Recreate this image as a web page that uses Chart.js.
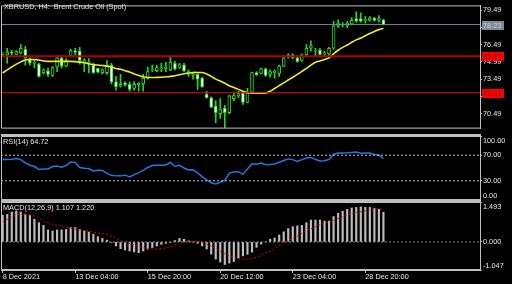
<!DOCTYPE html>
<html>
<head>
<meta charset="utf-8">
<script src="https://cdn.jsdelivr.net/npm/chart.js@4.4.1/dist/chart.umd.min.js"></script>
<style>
    html, body { margin: 0; padding: 0; background: #000; }
    #wrap { position: relative; width: 512px; height: 284px; overflow: hidden; background: #000; }
    #wrap canvas { position: absolute; left: 0; }
    .sep { position: absolute; left: 1px; width: 480px; height: 2px; background: #bdbdbd; }
</style>
</head>
<body>
<div id="wrap">
    <canvas id="main-canvas" width="512" height="134" style="top:0"></canvas>
    <div class="sep" style="top:134px"></div>
    <canvas id="rsi-canvas" width="512" height="64" style="top:136px"></canvas>
    <div class="sep" style="top:200px"></div>
    <canvas id="macd-canvas" width="512" height="82" style="top:202px"></canvas>
</div>
<script>
// XBRUSD H4 candles, one entry per bar (8 Dec 2021 .. 28 Dec 2021)
var opens = [75.68, 75.60, 75.84, 75.64, 75.76, 76.08, 75.27, 74.87, 74.79, 74.06,
    74.22, 73.81, 74.54, 75.35, 74.62, 75.52, 75.92, 75.92, 74.95, 74.87,
    74.71, 74.42, 74.06, 74.06, 74.71, 73.25, 72.88, 73.17, 73.04, 72.68,
    73.00, 73.08, 73.57, 74.26, 74.22, 74.38, 74.42, 74.30, 74.87, 74.50,
    74.71, 73.90, 73.81, 73.90, 73.57, 72.19, 71.87, 71.14, 70.49, 70.98,
    70.57, 71.79, 72.03, 72.27, 71.46, 72.35, 74.06, 73.98, 74.38, 73.90,
    74.06, 73.98, 74.62, 75.60, 75.60, 75.35, 75.11, 75.60, 76.17, 75.92,
    76.00, 75.68, 75.68, 76.17, 78.11, 78.19, 78.11, 78.27, 78.76, 78.76,
    78.60, 78.60, 78.80, 78.60, 78.64];
var highs = [75.76, 76.17, 76.00, 75.96, 76.49, 76.33, 75.35, 75.19, 74.87, 74.38,
    74.46, 74.58, 75.52, 75.52, 75.27, 76.08, 76.17, 76.25, 75.27, 75.27,
    74.87, 74.46, 74.38, 75.11, 74.87, 73.73, 73.90, 73.25, 73.25, 73.25,
    73.21, 73.90, 74.54, 74.71, 74.71, 74.87, 74.95, 75.44, 75.03, 74.87,
    74.87, 74.30, 74.06, 73.98, 73.65, 72.44, 71.95, 71.62, 71.79, 71.22,
    72.11, 72.27, 72.44, 72.44, 72.68, 74.10, 74.14, 74.46, 74.46, 74.30,
    74.30, 74.71, 75.52, 75.68, 75.68, 75.52, 75.68, 76.49, 76.81, 76.17,
    76.17, 75.92, 76.25, 78.52, 78.64, 78.40, 78.52, 78.84, 79.33, 79.25,
    78.92, 78.92, 78.84, 79.00, 78.68];
var lows = [75.56, 74.87, 75.60, 75.60, 75.68, 74.71, 74.71, 74.46, 73.65, 73.94,
    73.73, 73.73, 74.14, 74.46, 74.54, 75.44, 75.60, 74.79, 74.14, 74.06,
    73.98, 74.02, 73.94, 73.90, 73.08, 72.52, 72.80, 72.88, 72.44, 72.52,
    72.44, 72.44, 73.49, 74.14, 74.14, 74.14, 74.14, 74.22, 74.30, 74.42,
    74.14, 73.73, 73.49, 72.60, 72.76, 71.83, 71.02, 69.68, 70.08, 69.27,
    70.49, 71.62, 71.87, 71.30, 71.42, 72.31, 73.81, 73.94, 73.73, 73.65,
    73.57, 73.73, 74.58, 75.31, 75.27, 74.95, 75.03, 75.52, 75.92, 75.52,
    75.60, 75.48, 75.44, 76.08, 77.95, 78.03, 77.95, 78.19, 78.44, 78.44,
    78.36, 78.52, 78.52, 78.44, 78.19];
var closes = [75.70, 75.84, 75.76, 75.88, 76.17, 75.35, 74.87, 74.95, 73.73, 74.30,
    73.90, 74.50, 75.35, 74.62, 75.11, 75.96, 75.84, 75.11, 75.11, 74.95,
    74.06, 74.10, 74.30, 74.71, 73.25, 72.84, 73.04, 73.00, 72.60, 73.04,
    73.13, 73.57, 74.14, 74.34, 74.50, 74.46, 74.54, 74.95, 74.38, 74.75,
    74.22, 74.14, 73.98, 73.49, 72.84, 71.87, 71.06, 70.57, 70.89, 70.57,
    72.03, 72.07, 72.23, 71.46, 72.27, 74.06, 73.86, 74.38, 73.81, 74.14,
    74.18, 74.62, 75.35, 75.44, 75.35, 75.03, 75.60, 76.17, 76.41, 76.00,
    75.64, 75.76, 76.17, 78.11, 78.36, 78.23, 78.36, 78.60, 78.52, 78.52,
    78.68, 78.80, 78.60, 78.76, 78.23];
// yellow moving average
var ma = [74.02, 74.30, 74.54, 74.79, 74.99, 75.15, 75.19, 75.19, 75.15, 75.07,
    75.03, 75.03, 75.03, 75.03, 75.03, 75.03, 75.01, 74.97, 74.91, 74.83,
    74.75, 74.71, 74.67, 74.62, 74.54, 74.42, 74.34, 74.22, 74.10, 73.94,
    73.81, 73.69, 73.63, 73.63, 73.64, 73.65, 73.69, 73.73, 73.79, 73.87,
    73.95, 74.02, 74.07, 74.07, 74.06, 73.94, 73.73, 73.49, 73.33, 73.13,
    72.92, 72.76, 72.60, 72.44, 72.31, 72.27, 72.27, 72.27, 72.27, 72.44,
    72.68, 72.92, 73.17, 73.41, 73.65, 73.90, 74.16, 74.42, 74.71, 74.95,
    75.07, 75.19, 75.35, 75.68, 76.00, 76.25, 76.45, 76.69, 76.90, 77.06,
    77.26, 77.46, 77.63, 77.79, 77.91];
var rsi = [63.4, 63.4, 63.8, 64.8, 63.1, 58.0, 54.3, 52.3, 47.7, 48.5,
    48.5, 52.3, 53.1, 51.2, 53.8, 59.2, 58.5, 50.8, 49.7, 49.2,
    45.4, 46.5, 46.2, 41.5, 38.5, 37.7, 37.7, 38.8, 36.2, 39.7,
    42.3, 46.2, 50.8, 53.8, 54.2, 54.2, 54.6, 58.9, 52.3, 54.2,
    50.0, 46.9, 47.2, 42.3, 36.6, 31.5, 26.9, 24.9, 27.7, 30.8,
    42.0, 43.9, 44.2, 40.0, 48.5, 56.5, 55.8, 57.7, 55.1, 55.5,
    56.2, 58.9, 61.8, 64.2, 63.1, 60.3, 63.1, 65.7, 66.5, 63.2,
    61.1, 61.2, 63.4, 71.5, 73.5, 73.5, 73.7, 74.3, 74.9, 73.1,
    73.4, 73.4, 71.1, 70.3, 64.72];
var macd = [1.00, 1.03, 1.12, 1.16, 1.12, 1.03, 1.00, 0.85, 0.72, 0.62,
    0.45, 0.41, 0.45, 0.45, 0.47, 0.54, 0.54, 0.47, 0.41, 0.37,
    0.29, 0.20, 0.13, 0.07, -0.02, -0.15, -0.25, -0.30, -0.34, -0.37,
    -0.40, -0.34, -0.27, -0.21, -0.15, -0.09, -0.05, -0.02, 0.05, 0.13,
    0.10, 0.04, 0.00, -0.05, -0.15, -0.26, -0.45, -0.64, -0.75, -0.84,
    -0.79, -0.73, -0.60, -0.52, -0.46, -0.38, -0.20, -0.08, 0.00, 0.10,
    0.15, 0.26, 0.38, 0.50, 0.57, 0.60, 0.62, 0.72, 0.82, 0.82,
    0.82, 0.78, 0.78, 0.95, 1.07, 1.15, 1.22, 1.27, 1.29, 1.31,
    1.29, 1.29, 1.25, 1.22, 1.107];
var signal = [0.75, 0.85, 0.94, 1.00, 1.03, 1.03, 1.01, 0.97, 0.90, 0.78,
    0.72, 0.66, 0.62, 0.59, 0.54, 0.51, 0.48, 0.45, 0.43, 0.40,
    0.37, 0.34, 0.31, 0.29, 0.21, 0.14, 0.06, -0.01, -0.06, -0.12,
    -0.17, -0.22, -0.25, -0.26, -0.27, -0.25, -0.22, -0.18, -0.12, -0.07,
    -0.03, 0.01, 0.03, 0.03, -0.02, -0.09, -0.16, -0.25, -0.35, -0.44,
    -0.53, -0.59, -0.63, -0.65, -0.65, -0.62, -0.57, -0.50, -0.40, -0.35,
    -0.25, -0.14, -0.04, 0.04, 0.14, 0.23, 0.32, 0.42, 0.49, 0.57,
    0.64, 0.70, 0.75, 0.81, 0.87, 0.94, 1.00, 1.05, 1.10, 1.13,
    1.16, 1.20, 1.22, 1.24, 1.220];

var priceTicks = [79.49, 77.99, 76.49, 74.99, 73.49, 71.99, 70.49];
var levelPrices = [78.23, 75.47, 72.31];   // bid line, two horizontal lines
var rsiTicks = [100, 70, 30, 0];
var rsiLevels = [70, 30];
var macdTicks = [1.493, 0, -1.047];
var xTickBars = [0, 16, 32, 48, 64, 80];
var xTickLabels = ['8 Dec 2021', '13 Dec 04:00', '15 Dec 20:00', '20 Dec 12:00', '23 Dec 04:00', '28 Dec 20:00'];

(function () {
    'use strict';

    var FONT = 'Liberation Sans';
    var TEXT = '#e4e4e4';
    var FRAME = '#c0c0c0';
    var GREEN = '#22d822';
    var xMin = -0.37, xMax = 105.3;

    Chart.defaults.font.family = FONT;
    Chart.defaults.font.size = 7.3;
    Chart.defaults.color = TEXT;

    function pts(arr) {
        return arr.map(function (v, i) {
            return { x: i, y: v };
        });
    }
    function hline(v) {
        return [{ x: xMin, y: v }, { x: xMax, y: v }];
    }
    function axisWidth(scale) {
        scale.width = 32;
    }

    var frame = {
        id: 'frame',
        afterDraw: function (chart) {
            var a = chart.chartArea, ctx = chart.ctx;
            ctx.save();
            ctx.strokeStyle = FRAME;
            ctx.lineWidth = 1;
            ctx.beginPath();
            ctx.moveTo(a.right, a.top + 0.5);
            ctx.lineTo(a.left + 0.5, a.top + 0.5);
            ctx.lineTo(a.left + 0.5, a.bottom - 0.5);
            ctx.lineTo(a.right, a.bottom - 0.5);
            ctx.stroke();
            ctx.restore();
        }
    };

    var paneTitle = {
        id: 'paneTitle',
        afterDraw: function (chart, args, opts) {
            if (!opts.text) return;
            var ctx = chart.ctx;
            ctx.save();
            ctx.font = '7.3px "' + FONT + '"';
            ctx.fillStyle = TEXT;
            ctx.textBaseline = 'middle';
            ctx.fillText(opts.text, opts.x, opts.y);
            ctx.restore();
        }
    };

    // side scale labels, kept inside the pane like the terminal does
    var sideLabels = {
        id: 'sideLabels',
        afterDraw: function (chart, args, opts) {
            if (!opts.values) return;
            var scale = chart.scales.y, ctx = chart.ctx;
            ctx.save();
            ctx.font = '7.3px "' + FONT + '"';
            ctx.fillStyle = TEXT;
            ctx.textBaseline = 'middle';
            opts.values.forEach(function (v, k) {
                var y = scale.getPixelForValue(v);
                y = Math.max(scale.top + 5, Math.min(scale.bottom - 4, y));
                ctx.fillText(opts.labels[k], scale.left + 3, y);
            });
            ctx.restore();
        }
    };

    var priceBoxes = {
        id: 'priceBoxes',
        afterDraw: function (chart, args, opts) {
            var scale = chart.scales.y, ctx = chart.ctx;
            ctx.save();
            ctx.font = '7.3px "' + FONT + '"';
            ctx.textBaseline = 'middle';
            levelPrices.forEach(function (v, k) {
                var y = Math.round(scale.getPixelForValue(v));
                ctx.fillStyle = opts.fills[k];
                ctx.fillRect(scale.left + 2, y - 4, 22, 9);
                ctx.fillStyle = opts.texts[k];
                ctx.fillText(v.toFixed(2), scale.left + 3, y + 0.5);
            });
            ctx.restore();
        }
    };

    var bodies = opens.map(function (o, i) {
        return { x: i, y: [o, closes[i]] };
    });
    var wicks = lows.map(function (l, i) {
        return { x: i, y: [l, highs[i]] };
    });
    var bodyColors = opens.map(function (o, i) {
        return closes[i] >= o ? '#000000' : '#ffffff';
    });

    var baseX = {
        type: 'linear',
        min: xMin,
        max: xMax,
        offset: false,
        display: false,
        grid: { offset: false }
    };

    new Chart(document.getElementById('main-canvas'), {
        type: 'bar',
        data: {
            datasets: [
                {
                    type: 'line',
                    data: hline(levelPrices[0]),
                    borderColor: '#778899',
                    borderWidth: 1,
                    pointRadius: 0,
                    order: 0
                },
                {
                    type: 'line',
                    data: hline(levelPrices[1]),
                    borderColor: '#b40000',
                    borderWidth: 2,
                    pointRadius: 0,
                    order: 0
                },
                {
                    type: 'line',
                    data: hline(levelPrices[2]),
                    borderColor: '#f00000',
                    borderWidth: 1,
                    pointRadius: 0,
                    order: 0
                },
                {
                    type: 'line',
                    data: pts(ma),
                    borderColor: '#f2ea1c',
                    borderWidth: 1.6,
                    pointRadius: 0,
                    tension: 0.3,
                    order: 1
                },
                {
                    data: bodies,
                    grouped: false,
                    barThickness: 3,
                    minBarLength: 1,
                    backgroundColor: bodyColors,
                    borderColor: GREEN,
                    borderWidth: 1,
                    borderSkipped: false,
                    order: 2
                },
                {
                    data: wicks,
                    grouped: false,
                    barThickness: 1,
                    backgroundColor: GREEN,
                    borderWidth: 0,
                    order: 3
                }
            ]
        },
        options: {
            responsive: false,
            animation: false,
            layout: { padding: { left: 1, top: 1, bottom: 1, right: 0 }, autoPadding: false },
            plugins: {
                legend: { display: false },
                tooltip: { enabled: false },
                paneTitle: { text: 'XBRUSD, H4:  Brent Crude Oil (Spot)', x: 4, y: 7 },
                priceBoxes: {
                    fills: ['#7d8b99', '#ff0000', '#ff0000'],
                    texts: ['#c9d3dc', '#6a0000', '#6a0000']
                }
            },
            scales: {
                x: baseX,
                y: {
                    position: 'right',
                    min: 69.19,
                    max: 79.896,
                    afterFit: axisWidth,
                    afterBuildTicks: function (scale) {
                        scale.ticks = priceTicks.map(function (v) {
                            return { value: v };
                        });
                    },
                    ticks: {
                        padding: 1,
                        autoSkip: false,
                        color: TEXT,
                        callback: function (v) {
                            return v.toFixed(2);
                        }
                    },
                    grid: { drawOnChartArea: false, tickLength: 2, tickColor: FRAME },
                    border: { color: FRAME }
                }
            }
        },
        plugins: [frame, paneTitle, priceBoxes]
    });

    new Chart(document.getElementById('rsi-canvas'), {
        type: 'line',
        data: {
            datasets: [
                {
                    data: hline(rsiLevels[0]),
                    borderColor: '#bdbdbd',
                    borderWidth: 1,
                    borderDash: [2, 2],
                    pointRadius: 0
                },
                {
                    data: hline(rsiLevels[1]),
                    borderColor: '#bdbdbd',
                    borderWidth: 1,
                    borderDash: [2, 2],
                    pointRadius: 0
                },
                {
                    data: pts(rsi),
                    borderColor: '#1f7ae0',
                    borderWidth: 1.5,
                    pointRadius: 0
                }
            ]
        },
        options: {
            responsive: false,
            animation: false,
            layout: { padding: { left: 1, top: 0, bottom: 0, right: 0 }, autoPadding: false },
            plugins: {
                legend: { display: false },
                tooltip: { enabled: false },
                paneTitle: { text: 'RSI(14) ' + rsi[rsi.length - 1].toFixed(2), x: 3, y: 6 },
                sideLabels: {
                    values: rsiTicks,
                    labels: rsiTicks.map(function (v) {
                        return v.toFixed(2);
                    })
                }
            },
            scales: {
                x: baseX,
                y: {
                    position: 'right',
                    min: 0,
                    max: 100,
                    afterFit: axisWidth,
                    afterBuildTicks: function (scale) {
                        scale.ticks = rsiTicks.map(function (v) {
                            return { value: v };
                        });
                    },
                    ticks: { display: false },
                    grid: { drawOnChartArea: false, tickLength: 2, tickColor: FRAME },
                    border: { color: FRAME }
                }
            }
        },
        plugins: [frame, paneTitle, sideLabels]
    });

    new Chart(document.getElementById('macd-canvas'), {
        type: 'bar',
        data: {
            datasets: [
                {
                    type: 'line',
                    data: hline(0),
                    borderColor: '#708090',
                    borderWidth: 1,
                    borderDash: [2, 2],
                    pointRadius: 0,
                    order: 2
                },
                {
                    type: 'line',
                    data: pts(signal),
                    borderColor: '#e00000',
                    borderWidth: 1,
                    borderDash: [2, 2],
                    pointRadius: 0,
                    order: 0
                },
                {
                    data: pts(macd),
                    grouped: false,
                    barThickness: 1.5,
                    backgroundColor: '#bcbcbc',
                    borderWidth: 0,
                    order: 1
                }
            ]
        },
        options: {
            responsive: false,
            animation: false,
            layout: { padding: { left: 1, top: 0, bottom: 0, right: 0 }, autoPadding: false },
            plugins: {
                legend: { display: false },
                tooltip: { enabled: false },
                paneTitle: {
                    text: 'MACD(12,26,9) ' + macd[macd.length - 1].toFixed(3) + ' ' + signal[signal.length - 1].toFixed(3),
                    x: 3,
                    y: 6
                },
                sideLabels: {
                    values: macdTicks,
                    labels: macdTicks.map(function (v) {
                        return v.toFixed(3);
                    })
                }
            },
            scales: {
                x: {
                    type: 'linear',
                    min: xMin,
                    max: xMax,
                    offset: false,
                    position: 'bottom',
                    afterFit: function (scale) {
                        scale.height = 14;
                    },
                    afterBuildTicks: function (scale) {
                        scale.ticks = xTickBars.map(function (v) {
                            return { value: v };
                        });
                    },
                    ticks: {
                        align: 'start',
                        autoSkip: false,
                        maxRotation: 0,
                        padding: 0,
                        color: TEXT,
                        callback: function (v) {
                            var k = xTickBars.indexOf(v);
                            return k >= 0 ? xTickLabels[k] : '';
                        }
                    },
                    grid: { drawOnChartArea: false, offset: false, tickLength: 3, tickColor: FRAME },
                    border: { color: FRAME }
                },
                y: {
                    position: 'right',
                    min: -1.047,
                    max: 1.493,
                    afterFit: axisWidth,
                    afterBuildTicks: function (scale) {
                        scale.ticks = macdTicks.map(function (v) {
                            return { value: v };
                        });
                    },
                    ticks: { display: false },
                    grid: { drawOnChartArea: false, tickLength: 2, tickColor: FRAME },
                    border: { color: FRAME }
                }
            }
        },
        plugins: [frame, paneTitle, sideLabels]
    });
})();
</script>
</body>
</html>
